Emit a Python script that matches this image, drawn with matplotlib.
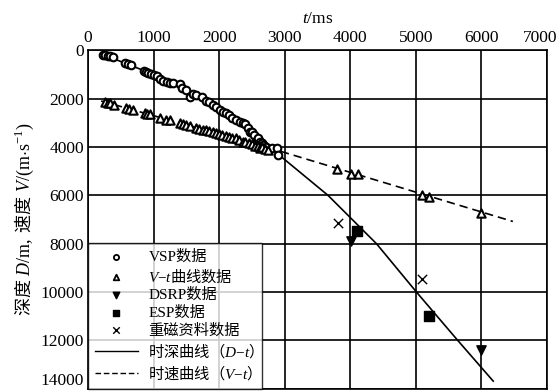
import numpy as np
import matplotlib
matplotlib.use("Agg")
import matplotlib.pyplot as plt
import matplotlib.transforms as mtransforms

plt.rcParams['font.family'] = ['Liberation Serif', 'Noto Sans CJK SC', 'DejaVu Sans']
plt.rcParams['mathtext.fontset'] = 'custom'
plt.rcParams['mathtext.rm'] = 'Liberation Serif'
plt.rcParams['mathtext.it'] = 'Liberation Serif:italic'
plt.rcParams['mathtext.sf'] = 'Noto Sans CJK SC'

# VSP data (t in ms, depth in m)
vsp_t = [230, 260, 300, 340, 380, 560, 610, 660, 850, 880, 920, 960, 1000, 1050, 1100,
         1150, 1200, 1250, 1300, 1400, 1430, 1500, 1555, 1600, 1650, 1740, 1800, 1850,
         1900, 1950, 2010, 2060, 2100, 2150, 2200, 2250, 2320, 2360, 2400, 2440, 2470,
         2500, 2530, 2575, 2600, 2620, 2650, 2670, 2720, 2800, 2880, 2900]
vsp_d = [180, 200, 250, 260, 300, 520, 570, 620, 850, 900, 960, 1000, 1030, 1080, 1180,
         1280, 1300, 1340, 1350, 1400, 1570, 1640, 1940, 1800, 1850, 1940, 2100, 2150,
         2250, 2350, 2470, 2550, 2600, 2700, 2800, 2870, 2970, 3000, 3050, 3200, 3380,
         3400, 3500, 3710, 3650, 3800, 3850, 3920, 4000, 4050, 4040, 4330]

# V-t curve data
vt_t = [255, 300, 330, 400, 580, 620, 690, 865, 900, 950, 1100, 1190, 1250, 1400, 1450,
        1500, 1550, 1650, 1700, 1750, 1800, 1850, 1900, 1950, 2000, 2050, 2100, 2150,
        2200, 2250, 2300, 2360, 2400, 2450, 2500, 2550, 2600, 2620, 2650, 2700, 2750,
        3800, 4010, 4120, 5090, 5200, 6000]
vt_d = [2130, 2200, 2200, 2270, 2400, 2420, 2470, 2600, 2620, 2650, 2800, 2890, 2900,
        3020, 3060, 3100, 3130, 3220, 3250, 3280, 3300, 3350, 3380, 3420, 3460, 3500,
        3550, 3580, 3620, 3650, 3700, 3780, 3800, 3850, 3880, 3950, 3980, 4050, 4020,
        4100, 4120, 4900, 5110, 5110, 5980, 6060, 6730]

dsrp_t = [4010, 6000]
dsrp_d = [7900, 12400]

esp_t = [4100, 5200]
esp_d = [7460, 11000]

grav_t = [3810, 5100]
grav_d = [7130, 9460]

# fitted curves
dt_t = [200, 1000, 2000, 2500, 2900, 3660, 4400, 5010, 5640, 6180]
dt_d = [150, 1000, 2350, 3200, 4300, 6000, 8000, 10000, 12000, 13680]

vtc_t = [200, 2900, 6480]
vtc_d = [2100, 4150, 7080]

fig = plt.figure(figsize=(5.57, 3.92), dpi=100)
ax = fig.add_axes([0.158, 0.008, 0.824, 0.864])

ax.plot(dt_t, dt_d, color='black', lw=1.2, zorder=3)
ax.plot(vtc_t, vtc_d, color='black', lw=1.2, ls=(0, (5, 3)), zorder=3)
ax.scatter(vsp_t, vsp_d, s=30, facecolors='white', edgecolors='black', linewidths=1.5, zorder=4)
ax.scatter(vt_t, vt_d, s=36, marker='^', facecolors='white', edgecolors='black', linewidths=1.5, zorder=4)
ax.scatter(dsrp_t, dsrp_d, s=45, marker='v', color='black', zorder=4)
ax.scatter(esp_t, esp_d, s=45, marker='s', color='black', zorder=4)
ax.scatter(grav_t, grav_d, s=45, marker='x', color='black', linewidths=1.0, zorder=4)

# legend proxies
h = [
    ax.scatter([], [], s=14, facecolors='white', edgecolors='black', linewidths=1.3),
    ax.scatter([], [], s=16, marker='^', facecolors='white', edgecolors='black', linewidths=1.3),
    ax.scatter([], [], s=22, marker='v', color='black'),
    ax.scatter([], [], s=22, marker='s', color='black'),
    ax.scatter([], [], s=22, marker='x', color='black', linewidths=1.0),
    plt.Line2D([], [], color='black', lw=1.0),
    plt.Line2D([], [], color='black', lw=1.0, ls=(0, (4, 2))),
]
labels = ['VSP数据',
          r'$V\mathrm{-}t\mathsf{曲线数据}$',
          'DSRP数据',
          'ESP数据',
          '重磁资料数据',
          r'$\mathsf{时深曲线（}D\mathrm{-}t\mathsf{）}$',
          r'$\mathsf{时速曲线（}V\mathrm{-}t\mathsf{）}$']
leg = ax.legend(h, labels, loc='lower left', fontsize=11, frameon=True, fancybox=False,
                edgecolor='black', handlelength=2.8, handletextpad=0.7,
                labelspacing=0.22, borderaxespad=0.0, borderpad=0.45)
leg.get_frame().set_linewidth(1.0)
leg.set_zorder(5)

ax.set_xlim(0, 7000)
ax.set_ylim(14000, 0)
ax.set_xticks(np.arange(0, 7001, 1000))
ax.set_yticks(np.arange(0, 14001, 2000))
ax.xaxis.tick_top()
ax.xaxis.set_label_position('top')
ax.tick_params(length=0, labelsize=12.5, pad=3)
ax.grid(True, color='black', lw=1.2)
ax.set_axisbelow(True)
for s in ax.spines.values():
    s.set_linewidth(1.2)

# pull the edge labels in so they stay on the page
fig.canvas.draw()
last = ax.get_xticklabels()[-1]
last.set_horizontalalignment('right')
last.set_transform(last.get_transform() + mtransforms.ScaledTranslation(10 / 100, 0, fig.dpi_scale_trans))
bottom = ax.get_yticklabels()[-1]
bottom.set_verticalalignment('bottom')

ax.set_xlabel('$t$/ms', fontsize=12.5, labelpad=5)
ax.set_ylabel(r'$\mathsf{深度}\ D\mathrm{/m,}\ \mathsf{速度}\ V\mathrm{/(m{\cdot}s^{-1})}$',
              fontsize=13, labelpad=3)

fig.savefig('out.png', dpi=100)
